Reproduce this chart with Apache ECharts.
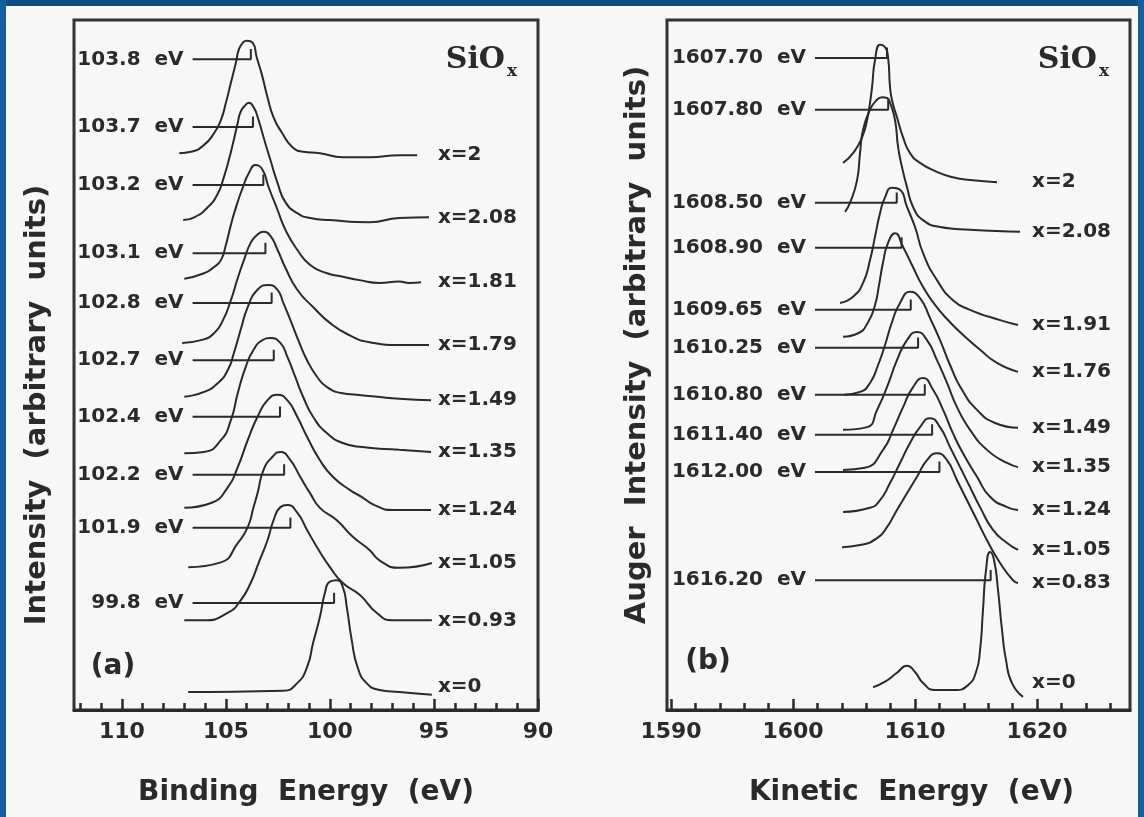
<!DOCTYPE html>
<html>
<head>
<meta charset="utf-8">
<title>SiOx Si 2p and Si KLL spectra</title>
<script src="https://cdn.jsdelivr.net/npm/echarts@6/dist/echarts.min.js"></script>
<style>
  html, body { margin: 0; padding: 0; background: #f7f7f7; }
  #chart { width: 1144px; height: 817px; }
</style>
</head>
<body>
<div id="chart"></div>
<script>
// ---- panel (a): Si 2p photoelectron spectra, binding energy (eV) vs intensity (arb.)
const beLabelTicks = [90, 95, 100, 105, 110];
const beMinorTicks = [90, 91, 92, 93, 94, 95, 96, 97, 98, 99, 100, 101, 102, 103, 104, 105, 106, 107, 108, 109, 110, 111, 112];
const xpsComposition = ['x=2', 'x=2.08', 'x=1.81', 'x=1.79', 'x=1.49', 'x=1.35', 'x=1.24', 'x=1.05', 'x=0.93', 'x=0'];
const xpsPeakEnergy = [103.8, 103.7, 103.2, 103.1, 102.8, 102.7, 102.4, 102.2, 101.9, 99.8];
const xpsMarkerLevel = [94.3, 84.5, 76.1, 66.2, 59.0, 50.7, 42.5, 34.1, 26.4, 15.5];
const xpsMarkerStart = 106.6;

const xps_2 = [[107.24,80.7],[106.67,80.9],[106.05,81.9],[105.57,83.6],[105.24,85.5],[105.0,88.0],[104.76,90.9],[104.52,93.8],[104.38,95.7],[104.19,96.7],[104.0,97.0],[103.71,96.7],[103.52,94.6],[103.29,92.3],[103.0,88.8],[102.71,85.9],[102.29,83.6],[101.81,81.6],[101.29,80.9],[100.48,80.7],[99.38,80.1],[98.10,80.1],[96.67,80.4],[95.81,80.4]];
const xps_208 = [[107.05,71.0],[106.52,71.4],[105.86,72.9],[105.38,74.9],[105.10,77.2],[104.86,79.7],[104.62,82.6],[104.43,85.1],[104.29,86.7],[104.05,87.7],[103.90,88.0],[103.67,87.4],[103.43,85.5],[103.19,83.0],[102.86,79.7],[102.52,76.4],[102.14,73.6],[101.57,72.0],[100.95,71.3],[100.0,71.0],[98.10,70.7],[96.67,71.3],[95.24,71.4]];
const xps_181 = [[107.0,62.5],[106.05,63.3],[105.57,64.2],[105.24,65.2],[105.0,67.4],[104.76,70.3],[104.48,73.2],[104.19,75.7],[103.90,77.8],[103.57,79.0],[103.24,78.3],[102.95,75.8],[102.52,72.5],[102.14,69.6],[101.57,66.7],[100.95,64.5],[100.14,63.3],[99.38,62.8],[98.57,62.3],[97.62,61.9],[96.67,62.1],[96.19,61.9],[95.62,62.0]];
const xps_179 = [[107.10,53.2],[106.19,53.6],[105.57,54.6],[105.14,56.5],[104.76,59.4],[104.43,62.6],[104.10,65.5],[103.81,67.7],[103.52,68.8],[103.19,69.3],[102.86,68.7],[102.52,66.7],[102.14,64.1],[101.57,60.9],[100.81,58.4],[100.0,56.1],[99.05,54.3],[98.10,53.3],[96.67,52.9],[95.24,52.9]];
const xps_149 = [[107.0,45.4],[106.05,46.1],[105.38,47.4],[104.90,49.3],[104.62,51.7],[104.29,55.1],[103.95,58.4],[103.48,60.9],[102.95,61.6],[102.52,60.9],[102.24,59.0],[101.90,56.5],[101.52,53.6],[101.10,50.7],[100.62,48.3],[100.14,46.8],[99.38,45.9],[98.71,45.7],[96.67,45.1],[95.14,44.9]];
const xps_135 = [[107.0,37.2],[106.05,37.4],[105.24,39.1],[104.76,42.0],[104.43,45.9],[104.05,49.7],[103.67,52.2],[103.24,53.6],[102.86,53.9],[102.38,53.2],[102.05,51.2],[101.67,48.3],[101.29,45.4],[100.81,42.5],[100.14,40.1],[99.38,38.7],[98.43,38.1],[96.67,37.7],[95.14,37.4]];
const xps_124 = [[107.0,29.3],[105.71,30.0],[104.90,32.3],[104.43,35.2],[103.95,39.1],[103.48,42.5],[103.0,44.9],[102.52,45.7],[102.05,44.9],[101.57,42.5],[101.10,39.6],[100.48,36.2],[99.86,33.8],[99.05,31.9],[98.48,30.9],[97.86,29.7],[97.0,29.0],[95.14,29.0]];
const xps_105 = [[106.81,20.7],[105.24,21.4],[104.43,24.2],[103.95,26.5],[103.67,29.4],[103.48,31.4],[103.19,34.8],[102.76,36.7],[102.38,37.4],[101.90,36.2],[101.43,33.8],[100.95,31.4],[100.48,29.3],[99.67,27.5],[98.90,25.1],[98.10,23.2],[97.62,21.7],[96.67,20.6],[95.10,21.3]];
const xps_093 = [[107.0,13.0],[106.05,13.0],[104.90,14.1],[104.29,15.9],[103.81,18.4],[103.43,21.3],[103.0,24.6],[102.71,27.5],[102.38,29.4],[102.05,29.7],[101.57,28.6],[101.10,26.1],[100.62,23.6],[100.0,20.7],[99.38,18.4],[98.57,16.7],[97.76,14.1],[97.0,13.0],[95.10,13.0]];
const xps_0 = [[106.81,2.6],[102.24,2.8],[101.57,3.9],[101.10,6.2],[100.81,9.7],[100.48,13.5],[100.24,17.0],[100.0,18.6],[99.67,18.8],[99.38,17.8],[99.19,14.9],[98.95,10.1],[98.67,6.2],[98.24,3.9],[97.62,2.9],[96.67,2.6],[95.10,2.2]];
const xpsSpectra = [xps_2, xps_208, xps_181, xps_179, xps_149, xps_135, xps_124, xps_105, xps_093, xps_0];

// ---- panel (b): Si KLL Auger spectra, kinetic energy (eV) vs intensity (arb.)
const keLabelTicks = [1590, 1600, 1610, 1620];
const keMinorTicks = [1590, 1592, 1594, 1596, 1598, 1600, 1602, 1604, 1606, 1608, 1610, 1612, 1614, 1616, 1618, 1620, 1622, 1624, 1626];
const augerComposition = ['x=2', 'x=2.08', 'x=1.91', 'x=1.76', 'x=1.49', 'x=1.35', 'x=1.24', 'x=1.05', 'x=0.83', 'x=0'];
const augerPeakEnergy = [1607.70, 1607.80, 1608.50, 1608.90, 1609.65, 1610.25, 1610.80, 1611.40, 1612.00, 1616.20];
const augerMarkerLevel = [94.5, 87.0, 73.5, 67.0, 58.0, 52.5, 45.7, 39.9, 34.5, 18.8];
const augerMarkerStart = 1601.8;

const aug_2 = [[1604.10,79.3],[1604.92,80.7],[1605.66,83.0],[1606.07,85.5],[1606.31,88.0],[1606.48,90.3],[1606.72,94.2],[1607.13,96.4],[1607.46,96.2],[1607.79,94.6],[1607.95,90.3],[1608.11,88.4],[1608.52,85.9],[1609.02,83.0],[1609.59,80.7],[1610.41,79.3],[1611.80,78.0],[1613.11,77.2],[1614.51,76.8],[1616.72,76.5]];
const aug_208 = [[1604.26,72.2],[1604.67,73.5],[1605.25,76.8],[1605.49,80.7],[1605.74,84.1],[1606.31,87.0],[1606.80,88.3],[1607.30,88.8],[1607.70,88.7],[1607.95,88.0],[1608.36,85.5],[1608.61,81.6],[1608.93,78.7],[1609.34,75.8],[1609.84,72.9],[1610.66,71.0],[1612.05,70.0],[1614.51,69.6],[1618.61,69.3]];
const aug_191 = [[1603.85,59.0],[1604.92,59.9],[1605.74,61.9],[1606.31,65.2],[1606.72,68.6],[1607.13,72.0],[1607.54,74.3],[1608.11,75.7],[1608.77,75.4],[1609.34,72.9],[1610.0,70.0],[1610.66,66.2],[1611.80,62.3],[1613.11,59.4],[1614.51,58.0],[1616.97,56.5],[1618.44,55.8]];
const aug_176 = [[1604.10,54.1],[1605.33,54.6],[1606.15,56.2],[1606.72,58.7],[1607.05,61.6],[1607.38,64.9],[1607.79,67.7],[1608.36,69.1],[1609.02,67.1],[1609.75,64.5],[1610.57,61.6],[1611.64,58.7],[1612.87,56.2],[1614.10,54.1],[1615.33,52.2],[1616.72,50.3],[1618.44,49.0]];
const aug_149 = [[1604.18,45.7],[1605.49,46.1],[1606.31,47.4],[1606.97,50.0],[1607.54,52.9],[1608.11,56.2],[1608.77,59.0],[1609.59,60.6],[1610.41,59.7],[1611.23,56.8],[1612.05,53.6],[1612.87,50.0],[1613.85,46.4],[1615.08,43.5],[1616.56,41.6],[1618.44,40.9]];
const aug_135 = [[1604.10,40.6],[1606.07,41.0],[1606.89,43.5],[1607.70,46.8],[1608.52,50.7],[1609.34,53.6],[1610.16,54.8],[1610.98,53.6],[1611.80,50.7],[1612.62,47.4],[1613.44,43.9],[1614.51,40.6],[1615.90,37.7],[1617.54,35.8],[1618.44,35.2]];
const aug_124 = [[1604.10,34.8],[1605.90,35.1],[1607.38,37.7],[1608.20,40.6],[1609.02,43.9],[1609.84,46.8],[1610.66,48.1],[1611.48,46.4],[1612.30,43.5],[1613.11,40.1],[1613.93,37.2],[1615.08,33.8],[1616.15,30.9],[1617.54,29.4],[1618.44,29.0]];
const aug_105 = [[1604.10,28.7],[1606.31,29.3],[1607.13,30.4],[1607.95,32.9],[1608.77,35.8],[1609.59,38.7],[1610.41,41.0],[1611.23,42.3],[1612.05,41.0],[1612.87,38.1],[1613.69,35.2],[1614.51,32.3],[1615.33,29.4],[1616.39,26.1],[1617.54,24.2],[1618.44,23.2]];
const aug_083 = [[1604.02,23.6],[1605.49,23.9],[1606.89,24.9],[1607.70,26.5],[1608.52,29.0],[1609.34,31.4],[1610.16,33.8],[1610.98,36.2],[1611.80,37.2],[1612.62,36.2],[1613.44,33.3],[1614.26,30.4],[1615.08,27.5],[1615.90,24.6],[1616.97,21.3],[1618.03,18.8],[1618.44,18.4]];
const aug_0 = [[1606.56,3.3],[1607.54,4.1],[1608.52,5.4],[1609.34,6.4],[1610.0,5.5],[1610.66,3.9],[1611.64,2.9],[1613.28,2.9],[1614.34,3.6],[1615.0,5.5],[1615.33,8.7],[1615.57,14.5],[1615.82,20.3],[1616.15,22.9],[1616.48,21.7],[1616.80,17.4],[1617.13,11.6],[1617.46,7.2],[1617.95,3.9],[1618.85,1.9]];
const augerSpectra = [aug_2, aug_208, aug_191, aug_176, aug_149, aug_135, aug_124, aug_105, aug_083, aug_0];

// axis ranges and where the composition labels line up
const beRange = [90, 112.3];
const keRange = [1589.67, 1627.62];
const xpsLabelColumn = 94.81;
const augerLabelColumn = 1619.59;

const INK = '#2a2a2a';
const FONT = 'DejaVu Sans';

const chart = echarts.init(document.getElementById('chart'));

function spectrum(data, xi, yi) {
  return {
    type: 'line', xAxisIndex: xi, yAxisIndex: yi, data: data,
    smooth: 0.55, showSymbol: false, silent: true,
    lineStyle: { color: INK, width: 2 }, z: 3
  };
}

function marker(start, level, energy, text, xi, yi) {
  return {
    type: 'line', xAxisIndex: xi, yAxisIndex: yi, silent: true,
    symbol: 'circle', symbolSize: 0, showSymbol: true,
    lineStyle: { color: INK, width: 2 }, label: { show: false }, z: 4,
    data: [
      { value: [start, level], label: { show: true, position: 'left', distance: 9, formatter: text,
        color: INK, fontFamily: FONT, fontWeight: 'bold', fontSize: 20 } },
      [energy, level],
      [energy, level + 1.5]
    ]
  };
}

function compositionLabels(spectra, names, column, xi, yi, lastNudge) {
  const style = { show: true, position: 'right', distance: 0, color: INK, opacity: 1,
    fontFamily: FONT, fontWeight: 'bold', fontSize: 20 };
  return {
    type: 'scatter', xAxisIndex: xi, yAxisIndex: yi, symbolSize: 0, silent: true, z: 5,
    itemStyle: { color: INK, opacity: 1 },
    label: style,
    data: spectra.map((s, i) => ({
      value: [column, s[s.length - 1][1]],
      label: Object.assign({}, style, { formatter: names[i], offset: [0, i === spectra.length - 1 ? lastNudge : 0] })
    }))
  };
}

const series = [];
xpsSpectra.forEach(s => series.push(spectrum(s, 0, 0)));
augerSpectra.forEach(s => series.push(spectrum(s, 2, 1)));
xpsPeakEnergy.forEach((e, i) => series.push(marker(xpsMarkerStart, xpsMarkerLevel[i], e, e.toFixed(1) + '  eV', 0, 0)));
augerPeakEnergy.forEach((e, i) => series.push(marker(augerMarkerStart, augerMarkerLevel[i], e, e.toFixed(2) + '  eV', 2, 1)));
series.push(compositionLabels(xpsSpectra, xpsComposition, xpsLabelColumn, 0, 0, -8));
series.push(compositionLabels(augerSpectra, augerComposition, augerLabelColumn, 2, 1, -14));

const tickFont = { color: INK, fontFamily: FONT, fontWeight: 'bold', fontSize: 22, margin: 11, formatter: v => String(v) };
const titleFont = { color: INK, fontFamily: FONT, fontWeight: 'bold', fontSize: 28 };

function majorAxis(grid, range, ticks, name, inverse, namePad) {
  return {
    type: 'value', gridIndex: grid, min: range[0], max: range[1], inverse: inverse, position: 'bottom',
    axisLine: { show: true, lineStyle: { color: INK, width: 3 } },
    axisTick: { show: true, inside: true, length: 11, customValues: ticks, lineStyle: { color: INK, width: 2.5 } },
    axisLabel: Object.assign({ customValues: ticks }, tickFont),
    splitLine: { show: false },
    name: name, nameLocation: 'middle', nameGap: 69,
    nameTextStyle: Object.assign({ padding: namePad }, titleFont)
  };
}

function minorAxis(grid, range, ticks, inverse) {
  return {
    type: 'value', gridIndex: grid, min: range[0], max: range[1], inverse: inverse, position: 'bottom',
    axisLine: { show: false },
    axisTick: { show: true, inside: true, length: 7, customValues: ticks, lineStyle: { color: INK, width: 2.5 } },
    axisLabel: { show: false },
    splitLine: { show: false }
  };
}

const option = {
  animation: false,
  backgroundColor: '#f7f7f7',
  grid: [
    { left: 74, top: 20, width: 464, height: 690, show: true, borderColor: '#333', borderWidth: 3, backgroundColor: 'transparent' },
    { left: 667, top: 20, width: 463, height: 690, show: true, borderColor: '#333', borderWidth: 3, backgroundColor: 'transparent' }
  ],
  xAxis: [
    majorAxis(0, beRange, beLabelTicks, 'Binding  Energy  (eV)', true, [0, 0, 0, 0]),
    minorAxis(0, beRange, beMinorTicks, true),
    majorAxis(1, keRange, keLabelTicks, 'Kinetic  Energy  (eV)', false, [0, 0, 0, 26]),
    minorAxis(1, keRange, keMinorTicks, false)
  ],
  yAxis: [
    { type: 'value', gridIndex: 0, min: 0, max: 100, show: false },
    { type: 'value', gridIndex: 1, min: 0, max: 100, show: false }
  ],
  graphic: [
    { type: 'rect', silent: true, shape: { x: 0, y: 0, width: 1144, height: 6 }, style: { fill: '#0f4f85' } },
    { type: 'rect', silent: true, shape: { x: 0, y: 0, width: 6, height: 817 }, style: { fill: '#1561a0' } },
    { type: 'rect', silent: true, shape: { x: 1138, y: 0, width: 6, height: 817 }, style: { fill: '#1561a0' } },
    { type: 'text', silent: true, x: 37, y: 405, rotation: Math.PI / 2,
      style: { text: 'Intensity  (arbitrary  units)', font: 'bold 29px "DejaVu Sans"', fill: INK, align: 'center', verticalAlign: 'middle' } },
    { type: 'text', silent: true, x: 637, y: 345, rotation: Math.PI / 2,
      style: { text: 'Auger  Intensity  (arbitrary  units)', font: 'bold 29px "DejaVu Sans"', fill: INK, align: 'center', verticalAlign: 'middle' } },
    { type: 'text', silent: true, x: 505, y: 60,
      style: { text: 'SiO', font: 'bold 30px "DejaVu Serif"', fill: INK, align: 'right', verticalAlign: 'middle' } },
    { type: 'text', silent: true, x: 507, y: 72,
      style: { text: 'x', font: 'bold 17px "DejaVu Serif"', fill: INK, align: 'left', verticalAlign: 'middle' } },
    { type: 'text', silent: true, x: 1097, y: 60,
      style: { text: 'SiO', font: 'bold 30px "DejaVu Serif"', fill: INK, align: 'right', verticalAlign: 'middle' } },
    { type: 'text', silent: true, x: 1099, y: 72,
      style: { text: 'x', font: 'bold 17px "DejaVu Serif"', fill: INK, align: 'left', verticalAlign: 'middle' } },
    { type: 'text', silent: true, x: 113, y: 667,
      style: { text: '(a)', font: 'bold 28px "DejaVu Sans"', fill: INK, align: 'center', verticalAlign: 'middle' } },
    { type: 'text', silent: true, x: 708, y: 662,
      style: { text: '(b)', font: 'bold 28px "DejaVu Sans"', fill: INK, align: 'center', verticalAlign: 'middle' } }
  ],
  series: series
};

chart.setOption(option);
</script>
</body>
</html>
